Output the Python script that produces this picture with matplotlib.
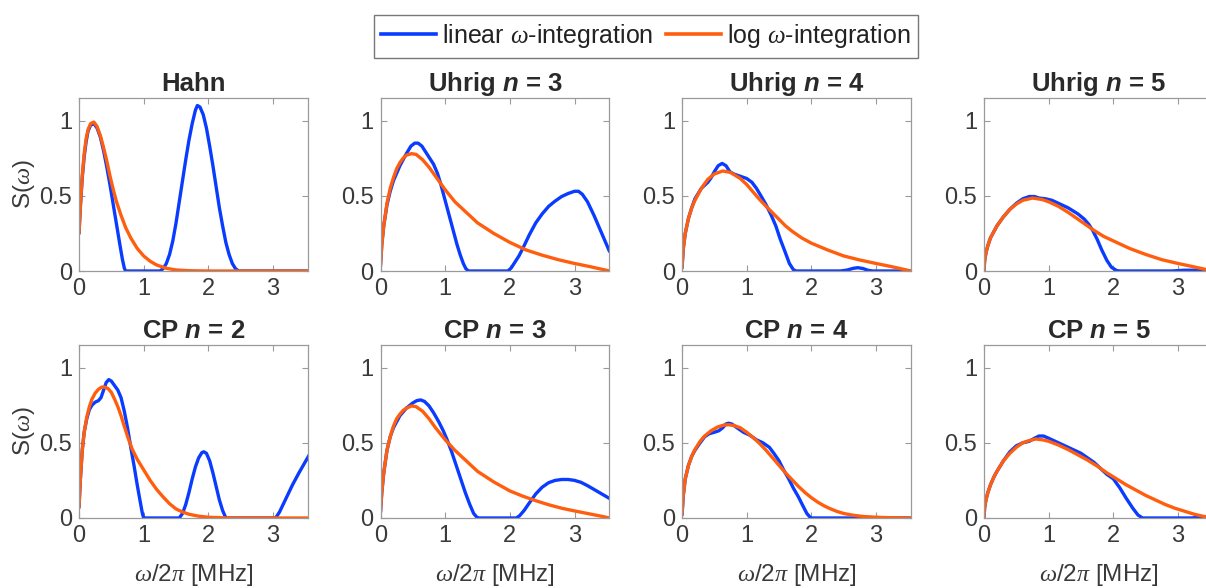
import matplotlib
matplotlib.use("Agg")
import matplotlib.pyplot as plt
from matplotlib.lines import Line2D

plt.rcParams['font.family'] = ['Liberation Sans', 'DejaVu Sans']
plt.rcParams['mathtext.fontset'] = 'custom'
plt.rcParams['mathtext.rm'] = 'Liberation Sans'
plt.rcParams['mathtext.it'] = 'Liberation Serif:italic'
plt.rcParams['mathtext.bf'] = 'Liberation Sans:italic:bold'

# ---------------- data ----------------
title_prefix = ["Hahn", "Uhrig", "Uhrig", "Uhrig", "CP", "CP", "CP", "CP"]
title_n = [None, 3, 4, 5, 2, 3, 4, 5]
legend_labels = ["linear $\\omega$-integration", "log $\\omega$-integration"]
xticks = [0, 1, 2, 3]
yticks = [0, 0.5, 1]
ytick_labels = ["0", "0.5", "1"]

# Hahn
hahn_lin_x = [0, 0.02, 0.05, 0.08, 0.11, 0.14, 0.18, 0.23, 0.28, 0.33, 0.38, 0.43, 0.48, 0.53, 0.58, 0.63, 0.67,
              0.7, 0.72, 1.25, 1.3, 1.35, 1.4, 1.45, 1.5, 1.55, 1.6, 1.65, 1.7, 1.75, 1.8, 1.83, 1.87, 1.92, 1.97,
              2.02, 2.07, 2.12, 2.17, 2.22, 2.27, 2.32, 2.37, 2.42, 2.47, 3.54]
hahn_lin_y = [0.25, 0.42, 0.62, 0.76, 0.86, 0.93, 0.97, 0.98, 0.95, 0.89, 0.8, 0.69, 0.57, 0.44, 0.31, 0.18, 0.08,
              0.02, 0.0, 0.0, 0.015, 0.05, 0.11, 0.2, 0.32, 0.46, 0.6, 0.74, 0.87, 0.98, 1.07, 1.1, 1.09, 1.04, 0.95,
              0.83, 0.7, 0.56, 0.42, 0.3, 0.19, 0.11, 0.05, 0.015, 0.0, 0.0]
hahn_log_x = [0, 0.02, 0.05, 0.08, 0.11, 0.14, 0.18, 0.23, 0.28, 0.33, 0.38, 0.43, 0.48, 0.53, 0.58, 0.65, 0.72,
              0.8, 0.9, 1.0, 1.1, 1.2, 1.35, 1.5, 1.7, 2.0, 3.54]
hahn_log_y = [0.25, 0.42, 0.63, 0.78, 0.88, 0.94, 0.98, 0.99, 0.96, 0.9, 0.82, 0.73, 0.63, 0.54, 0.46, 0.37, 0.29,
              0.22, 0.15, 0.1, 0.065, 0.04, 0.018, 0.007, 0.002, 0.0, 0.0]

# Uhrig n = 3
u3_lin_x = [0, 0.02, 0.05, 0.1, 0.15, 0.2, 0.3, 0.4, 0.47, 0.53, 0.58, 0.64, 0.7, 0.76, 0.82, 0.88, 0.93, 0.98,
            1.03, 1.08, 1.13, 1.18, 1.23, 1.28, 1.32, 1.36, 1.97, 2.02, 2.08, 2.14, 2.2, 2.3, 2.4, 2.5, 2.6, 2.7,
            2.8, 2.9, 3.0, 3.06, 3.12, 3.2, 3.3, 3.4, 3.47, 3.54]
u3_lin_y = [0.04, 0.18, 0.3, 0.44, 0.53, 0.6, 0.7, 0.78, 0.83, 0.85, 0.85, 0.83, 0.79, 0.75, 0.71, 0.65, 0.58, 0.5,
            0.42, 0.34, 0.26, 0.18, 0.11, 0.05, 0.015, 0.0, 0.0, 0.02, 0.06, 0.1, 0.15, 0.24, 0.32, 0.38, 0.43, 0.465,
            0.495, 0.515, 0.53, 0.53, 0.51, 0.46, 0.37, 0.27, 0.2, 0.13]
u3_log_x = [0, 0.02, 0.05, 0.1, 0.15, 0.2, 0.25, 0.3, 0.35, 0.4, 0.48, 0.55, 0.65, 0.75, 0.85, 1.0, 1.15, 1.3,
            1.5, 1.75, 2.0, 2.25, 2.5, 2.75, 3.0, 3.25, 3.54]
u3_log_y = [0.03, 0.17, 0.3, 0.45, 0.55, 0.62, 0.68, 0.72, 0.75, 0.77, 0.78, 0.775, 0.74, 0.69, 0.63, 0.54, 0.46,
            0.4, 0.32, 0.25, 0.19, 0.14, 0.105, 0.075, 0.05, 0.028, 0.0]

# Uhrig n = 4
u4_lin_x = [0, 0.02, 0.05, 0.1, 0.15, 0.2, 0.3, 0.4, 0.45, 0.5, 0.56, 0.62, 0.68, 0.74, 0.8, 0.9, 1.0, 1.08,
            1.15, 1.22, 1.3, 1.38, 1.45, 1.52, 1.6, 1.66, 1.72, 1.76, 2.45, 2.55, 2.65, 2.72, 2.8, 2.88, 2.95, 3.54]
u4_lin_y = [0.02, 0.15, 0.25, 0.35, 0.42, 0.48, 0.55, 0.59, 0.62, 0.66, 0.7, 0.715, 0.7, 0.66, 0.645, 0.63, 0.615,
            0.59, 0.55, 0.5, 0.44, 0.37, 0.3, 0.21, 0.12, 0.05, 0.01, 0.0, 0.0, 0.006, 0.018, 0.022, 0.016, 0.004,
            0.0, 0.0]
u4_log_x = [0, 0.02, 0.05, 0.1, 0.15, 0.2, 0.3, 0.4, 0.5, 0.63, 0.75, 0.9, 1.0, 1.1, 1.2, 1.3, 1.45, 1.6, 1.7,
            1.85, 2.0, 2.25, 2.5, 2.75, 3.0, 3.25, 3.54]
u4_log_y = [0.02, 0.15, 0.25, 0.35, 0.42, 0.47, 0.55, 0.61, 0.645, 0.665, 0.655, 0.615, 0.575, 0.525, 0.475, 0.43,
            0.365, 0.3, 0.265, 0.22, 0.185, 0.14, 0.1, 0.073, 0.05, 0.028, 0.0]

# Uhrig n = 5
u5_lin_x = [0, 0.01, 0.03, 0.06, 0.1, 0.15, 0.2, 0.3, 0.4, 0.5, 0.6, 0.7, 0.78, 0.85, 0.95, 1.05, 1.15, 1.3, 1.45,
            1.55, 1.62, 1.68, 1.75, 1.82, 1.9, 1.97, 2.05, 2.1, 2.9, 3.1, 3.3, 3.54]
u5_lin_y = [0.0, 0.07, 0.12, 0.17, 0.22, 0.26, 0.3, 0.36, 0.41, 0.45, 0.48, 0.495, 0.495, 0.485, 0.48, 0.47, 0.45,
            0.42, 0.38, 0.345, 0.31, 0.27, 0.21, 0.14, 0.07, 0.025, 0.003, 0.0, 0.0, 0.005, 0.005, 0.0]
u5_log_x = [0, 0.01, 0.03, 0.06, 0.1, 0.15, 0.2, 0.3, 0.4, 0.5, 0.6, 0.75, 0.9, 1.0, 1.15, 1.3, 1.5, 1.7, 1.85,
            2.0, 2.25, 2.5, 2.75, 3.0, 3.25, 3.54]
u5_log_y = [0.0, 0.07, 0.12, 0.17, 0.22, 0.26, 0.3, 0.36, 0.41, 0.445, 0.47, 0.485, 0.475, 0.46, 0.43, 0.39, 0.33,
            0.27, 0.23, 0.2, 0.15, 0.11, 0.075, 0.05, 0.027, 0.0]

# CP n = 2
c2_lin_x = [0, 0.02, 0.05, 0.08, 0.12, 0.16, 0.2, 0.25, 0.3, 0.34, 0.38, 0.42, 0.46, 0.5, 0.55, 0.6, 0.65, 0.7,
            0.75, 0.8, 0.85, 0.9, 0.95, 0.98, 1.0, 1.55, 1.6, 1.65, 1.7, 1.75, 1.8, 1.85, 1.9, 1.93, 1.97, 2.02,
            2.07, 2.12, 2.17, 2.22, 2.26, 2.28, 3.04, 3.1, 3.2, 3.3, 3.4, 3.48, 3.56]
c2_lin_y = [0.07, 0.25, 0.45, 0.57, 0.66, 0.72, 0.75, 0.77, 0.78, 0.8, 0.85, 0.9, 0.92, 0.91, 0.88, 0.85, 0.8, 0.71,
            0.6, 0.47, 0.35, 0.22, 0.1, 0.03, 0.0, 0.0, 0.03, 0.09, 0.17, 0.26, 0.34, 0.4, 0.435, 0.44, 0.43, 0.38,
            0.3, 0.21, 0.12, 0.05, 0.01, 0.0, 0.0, 0.04, 0.13, 0.22, 0.3, 0.36, 0.42]
c2_log_x = [0, 0.02, 0.05, 0.08, 0.12, 0.16, 0.2, 0.25, 0.3, 0.35, 0.4, 0.45, 0.5, 0.55, 0.6, 0.65, 0.7, 0.76,
            0.82, 0.9, 1.0, 1.1, 1.2, 1.3, 1.4, 1.5, 1.6, 1.7, 1.85, 2.0, 2.3, 3.56]
c2_log_y = [0.07, 0.25, 0.45, 0.57, 0.67, 0.74, 0.79, 0.83, 0.855, 0.87, 0.87, 0.86, 0.835, 0.79, 0.74, 0.68, 0.61,
            0.53, 0.46, 0.39, 0.32, 0.25, 0.19, 0.14, 0.095, 0.06, 0.04, 0.025, 0.012, 0.005, 0.0, 0.0]

# CP n = 3
c3_lin_x = [0, 0.02, 0.05, 0.1, 0.15, 0.2, 0.3, 0.4, 0.5, 0.56, 0.62, 0.68, 0.75, 0.82, 0.9, 0.97, 1.03, 1.1,
            1.17, 1.24, 1.31, 1.38, 1.44, 1.49, 1.52, 2.1, 2.15, 2.22, 2.3, 2.4, 2.5, 2.6, 2.7, 2.8, 2.9, 3.0, 3.1,
            3.2, 3.3, 3.42, 3.54]
c3_lin_y = [0.04, 0.17, 0.3, 0.45, 0.54, 0.6, 0.68, 0.73, 0.765, 0.78, 0.785, 0.775, 0.745, 0.7, 0.64, 0.58, 0.52,
            0.44, 0.35, 0.26, 0.17, 0.09, 0.03, 0.005, 0.0, 0.0, 0.015, 0.05, 0.1, 0.16, 0.205, 0.235, 0.25, 0.256,
            0.256, 0.25, 0.237, 0.215, 0.19, 0.16, 0.13]
c3_log_x = [0, 0.02, 0.05, 0.1, 0.15, 0.2, 0.25, 0.3, 0.35, 0.4, 0.48, 0.55, 0.65, 0.75, 0.85, 1.0, 1.15, 1.3,
            1.5, 1.75, 2.0, 2.2, 2.4, 2.6, 2.8, 3.0, 3.2, 3.4, 3.54]
c3_log_y = [0.04, 0.17, 0.3, 0.45, 0.54, 0.61, 0.66, 0.69, 0.715, 0.73, 0.745, 0.74, 0.71, 0.66, 0.6, 0.52, 0.45,
            0.39, 0.31, 0.24, 0.18, 0.145, 0.115, 0.088, 0.065, 0.047, 0.03, 0.013, 0.0]

# CP n = 4
c4_lin_x = [0, 0.02, 0.05, 0.1, 0.15, 0.2, 0.28, 0.35, 0.42, 0.5, 0.57, 0.63, 0.68, 0.72, 0.77, 0.85, 0.95, 1.05,
            1.15, 1.25, 1.35, 1.42, 1.5, 1.57, 1.65, 1.72, 1.8, 1.87, 1.93, 1.98, 2.0, 3.54]
c4_lin_y = [0.02, 0.15, 0.26, 0.35, 0.41, 0.45, 0.5, 0.54, 0.56, 0.57, 0.58, 0.6, 0.625, 0.63, 0.625, 0.6, 0.57,
            0.55, 0.52, 0.5, 0.47, 0.43, 0.38, 0.32, 0.26, 0.2, 0.14, 0.08, 0.03, 0.005, 0.0, 0.0]
c4_log_x = [0, 0.02, 0.05, 0.1, 0.15, 0.2, 0.28, 0.35, 0.45, 0.55, 0.65, 0.72, 0.8, 0.9, 1.0, 1.1, 1.2, 1.3, 1.4,
            1.5, 1.6, 1.7, 1.8, 1.9, 2.0, 2.1, 2.2, 2.3, 2.4, 2.5, 2.65, 2.8, 3.0, 3.2, 3.54]
c4_log_y = [0.02, 0.15, 0.26, 0.35, 0.41, 0.455, 0.51, 0.545, 0.58, 0.605, 0.618, 0.62, 0.615, 0.6, 0.57, 0.535,
            0.495, 0.45, 0.4, 0.35, 0.3, 0.255, 0.21, 0.17, 0.135, 0.105, 0.08, 0.06, 0.043, 0.03, 0.018, 0.01,
            0.005, 0.002, 0.0]

# CP n = 5
c5_lin_x = [0, 0.01, 0.03, 0.06, 0.1, 0.15, 0.2, 0.3, 0.4, 0.5, 0.6, 0.7, 0.78, 0.85, 0.92, 1.0, 1.1, 1.2, 1.3,
            1.4, 1.5, 1.6, 1.7, 1.8, 1.9, 2.0, 2.1, 2.2, 2.3, 2.38, 2.45, 3.2, 3.35, 3.54]
c5_lin_y = [0.0, 0.07, 0.12, 0.17, 0.22, 0.27, 0.31, 0.38, 0.44, 0.48, 0.5, 0.51, 0.53, 0.545, 0.545, 0.53, 0.51,
            0.49, 0.47, 0.45, 0.43, 0.4, 0.37, 0.33, 0.29, 0.26, 0.2, 0.13, 0.065, 0.02, 0.0, 0.0, 0.005, 0.004]
c5_log_x = [0, 0.01, 0.03, 0.06, 0.1, 0.15, 0.2, 0.3, 0.4, 0.5, 0.6, 0.7, 0.8, 0.9, 1.0, 1.15, 1.3, 1.45, 1.6,
            1.75, 1.9, 2.05, 2.2, 2.35, 2.5, 2.65, 2.8, 2.95, 3.1, 3.25, 3.4, 3.54]
c5_log_y = [0.0, 0.07, 0.12, 0.17, 0.22, 0.27, 0.31, 0.38, 0.43, 0.47, 0.5, 0.515, 0.525, 0.52, 0.51, 0.485, 0.455,
            0.42, 0.385, 0.345, 0.3, 0.26, 0.22, 0.185, 0.15, 0.12, 0.09, 0.065, 0.045, 0.025, 0.01, 0.0]

lin_x = [hahn_lin_x, u3_lin_x, u4_lin_x, u5_lin_x, c2_lin_x, c3_lin_x, c4_lin_x, c5_lin_x]
lin_y = [hahn_lin_y, u3_lin_y, u4_lin_y, u5_lin_y, c2_lin_y, c3_lin_y, c4_lin_y, c5_lin_y]
log_x = [hahn_log_x, u3_log_x, u4_log_x, u5_log_x, c2_log_x, c3_log_x, c4_log_x, c5_log_x]
log_y = [hahn_log_y, u3_log_y, u4_log_y, u5_log_y, c2_log_y, c3_log_y, c4_log_y, c5_log_y]

# ---------------- styling ----------------
BLUE = '#0A3CFF'
ORANGE = '#FF5E0E'
SPINE = '#9a9a9a'
TXT = '#3a3a3a'
W, H = 1206, 588
fig = plt.figure(figsize=(W / 100, H / 100), dpi=100)

col_left = [79, 380.5, 682, 984]
row_bottom = [271, 518]
aw, ah = 229, 173

for i in range(8):
    r, c = divmod(i, 4)
    ax = fig.add_axes([col_left[c] / W, (H - row_bottom[r]) / H, aw / W, ah / H])
    ax.plot(lin_x[i], lin_y[i], color=BLUE, lw=2.4, solid_joinstyle='round', solid_capstyle='round')
    ax.plot(log_x[i], log_y[i], color=ORANGE, lw=2.4, solid_joinstyle='round', solid_capstyle='round')
    ax.set_xlim(0, 3.54)
    ax.set_ylim(0, 1.15)
    ax.set_xticks(xticks)
    ax.set_yticks(yticks)
    ax.set_yticklabels(ytick_labels)
    ax.tick_params(direction='in', length=4, width=0.8, color=SPINE, labelcolor=TXT,
                   labelsize=17, top=True, right=True, pad=5)
    for s in ax.spines.values():
        s.set_color(SPINE)
        s.set_linewidth(0.9)
    if title_n[i] is None:
        ttl = title_prefix[i]
    else:
        ttl = title_prefix[i] + " $\\mathbf{n}$ = " + str(title_n[i])
    ax.set_title(ttl, fontsize=18.5, fontweight='bold', color='#2a2a2a', pad=5)
    if c == 0:
        ax.set_ylabel('S($\\omega$)', fontsize=17.5, color=TXT, labelpad=2)
    if r == 1:
        ax.set_xlabel('$\\omega$/2$\\pi$ [MHz]', fontsize=17.5, color=TXT, labelpad=11)

handles = [Line2D([], [], color=BLUE, lw=2.6), Line2D([], [], color=ORANGE, lw=2.6)]
leg = fig.legend(handles, legend_labels, loc='center', bbox_to_anchor=(646 / W, 1 - 36 / H), ncol=2,
                 fontsize=18, frameon=True, fancybox=False, edgecolor='#555555', handlelength=2.2,
                 handletextpad=0.25, columnspacing=0.5, borderpad=0.3, borderaxespad=0)
leg.get_frame().set_linewidth(1.0)
for t in leg.get_texts():
    t.set_color('#222222')

fig.savefig('out.png', dpi=100)
